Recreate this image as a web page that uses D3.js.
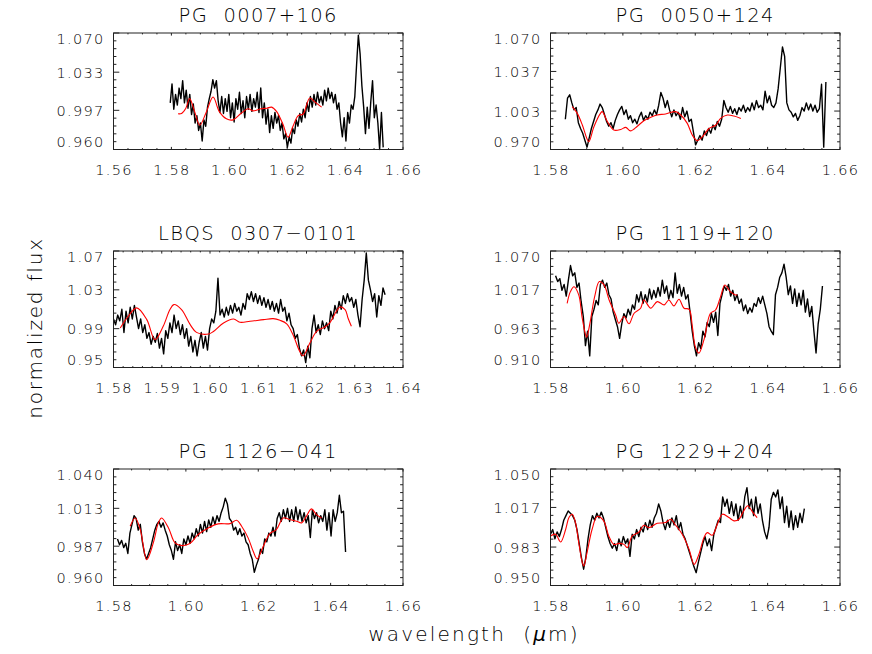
<!DOCTYPE html>
<html><head><meta charset="utf-8">
<script src="https://cdn.jsdelivr.net/npm/d3@7"></script>
<style>
body{margin:0;background:#fff}
text{font-family:"DejaVu Sans",sans-serif;font-weight:200;fill:#000}
</style>
</head><body><svg id="c" width="872" height="654"></svg>
<script>
// ---------- data ----------
const titles = ["PG  0007+106","PG  0050+124","LBQS  0307\u22120101","PG  1119+120","PG  1126\u2212041","PG  1229+204"];
const xTicks1 = ["1.56","1.58","1.60","1.62","1.64","1.66"];
const xTicks2 = ["1.58","1.60","1.62","1.64","1.66"];
const xTicks3 = ["1.58","1.59","1.60","1.61","1.62","1.63","1.64"];
const yTicks1 = ["0.960","0.997","1.033","1.070"];
const yTicks2 = ["0.970","1.003","1.037","1.070"];
const yTicks3 = ["0.95","0.99","1.03","1.07"];
const yTicks4 = ["0.910","0.963","1.017","1.070"];
const yTicks5 = ["0.960","0.987","1.013","1.040"];
const yTicks6 = ["0.950","0.983","1.017","1.050"];

// spectra: start wavelength, pixel step, normalized flux per pixel
const specStart = [1.5796, 1.5841, 1.5800, 1.5814, 1.5811, 1.5800];
const specStep  = [0.000613, 0.0006, 0.000433, 0.00059, 0.000573, 0.00061];

const flux1 = [1.004,1.022,0.998,1.012,1.002,1.018,1.008,1.025,1.004,1.016,0.999,1.012,0.993,1.003,0.985,0.992,0.978,0.985,0.968,0.988,
0.982,1.000,1.008,1.015,1.026,1.018,1.025,1.006,0.995,1.010,0.994,1.008,0.996,1.012,0.990,1.004,0.986,1.008,0.998,1.014,
0.994,1.006,0.990,1.010,0.998,1.012,0.996,1.008,1.000,1.014,0.995,1.018,0.990,1.004,0.984,0.998,0.976,0.992,0.980,0.995,
0.985,0.992,0.978,0.985,0.970,0.975,0.962,0.972,0.966,0.980,0.975,0.988,0.982,0.994,0.986,0.998,0.990,1.004,0.996,1.010,
1.000,1.012,1.002,1.014,1.004,1.010,1.002,1.016,1.006,1.018,1.008,1.014,1.004,1.012,0.998,1.004,0.985,0.972,0.990,0.968,
0.995,0.985,1.002,0.998,1.010,1.040,1.068,1.050,1.020,1.000,0.975,1.000,0.980,1.005,1.025,0.990,1.002,0.985,0.960,0.995,0.962];

const flux2 = [0.996,1.014,1.017,1.010,1.004,1.006,0.993,0.988,0.984,0.978,0.972,0.980,0.988,0.994,1.000,1.004,1.009,1.006,1.000,0.994,
0.990,0.993,0.988,0.995,1.000,1.004,1.007,1.000,1.004,0.996,0.999,0.993,0.996,0.992,0.998,1.002,0.995,0.999,0.996,1.002,
0.999,1.004,1.000,1.008,1.019,1.014,1.006,1.012,1.004,0.998,1.004,0.999,1.002,0.996,1.006,0.998,1.003,0.994,0.996,0.985,
0.974,0.978,0.982,0.978,0.986,0.982,0.988,0.984,0.991,0.987,0.994,0.990,0.996,1.012,1.006,1.002,1.007,1.001,1.005,1.000,
1.006,1.003,1.008,1.002,1.006,1.003,1.010,1.004,1.012,1.006,1.008,1.004,1.020,1.010,1.016,1.008,1.006,1.010,1.022,1.040,
1.058,1.050,1.010,1.004,1.002,0.998,1.001,0.995,0.999,1.006,1.003,1.010,1.004,1.009,1.003,1.008,1.002,1.005,1.026,0.972,1.028];

const flux3 = [1.000,0.994,1.004,0.998,1.010,0.986,1.008,0.996,1.012,1.000,1.014,1.002,0.990,1.000,0.986,0.994,0.980,0.986,0.974,0.982,
0.976,0.985,0.970,0.980,0.964,0.988,0.980,0.996,0.986,1.004,0.990,0.998,0.984,0.994,0.980,0.990,0.972,0.982,0.966,0.978,
0.962,0.976,0.986,0.970,0.982,0.968,0.990,1.000,0.996,1.008,1.042,1.004,1.010,1.002,1.012,1.004,1.014,1.006,1.016,1.008,
1.012,1.004,1.016,1.010,1.026,1.020,1.028,1.018,1.026,1.016,1.024,1.014,1.022,1.012,1.020,1.010,1.018,1.008,1.016,1.006,
1.020,1.008,1.012,0.998,1.006,0.994,0.990,0.980,0.984,0.970,0.962,0.968,0.955,0.972,0.960,0.990,1.004,0.986,0.994,0.984,
0.998,0.990,0.996,0.988,1.008,1.000,1.014,1.006,1.018,1.010,1.024,1.016,1.026,1.018,1.022,1.012,1.020,1.004,0.992,1.020,
1.040,1.068,1.040,1.030,1.018,1.026,1.002,1.024,1.014,1.032,1.025];

const flux4 = [1.036,1.028,1.032,1.016,1.024,1.008,1.030,1.050,1.036,1.040,1.020,1.026,1.000,0.980,0.940,0.960,0.926,0.980,0.990,1.002,
0.996,1.024,1.030,1.020,1.026,1.010,1.004,0.986,0.976,0.966,0.950,0.970,0.984,0.978,0.990,0.982,0.996,0.990,1.010,1.000,
1.014,0.998,1.010,1.000,1.018,1.004,1.016,1.006,1.020,1.008,1.030,1.012,1.022,1.004,1.016,1.006,1.040,1.012,1.024,1.008,
1.020,1.004,1.010,0.986,0.960,0.940,0.926,0.944,0.936,0.960,0.952,0.972,0.966,0.984,0.972,0.986,0.954,0.998,1.010,1.022,
1.016,1.024,1.008,1.016,1.002,1.010,0.998,1.004,0.988,0.996,0.984,0.992,0.986,0.998,0.994,1.006,0.998,1.008,0.996,0.984,
0.966,0.960,0.955,1.010,1.020,1.034,1.040,1.052,1.034,1.010,1.022,0.998,1.018,0.994,1.012,0.996,1.016,0.986,1.004,0.980,
0.994,0.960,0.930,0.970,0.990,1.022];

const flux5 = [0.992,0.988,0.991,0.986,0.989,0.982,0.996,1.002,1.008,1.006,0.998,1.002,0.990,0.982,0.978,0.982,0.986,0.992,0.998,1.002,
1.004,1.000,1.003,0.998,0.994,0.988,0.984,0.978,0.990,0.984,0.988,0.982,0.992,0.988,0.994,0.989,0.996,0.992,0.999,0.994,
1.002,0.996,1.004,0.997,1.005,1.000,1.007,1.002,1.008,1.004,1.010,1.014,1.020,1.016,1.006,1.004,0.998,1.000,0.995,0.999,
0.994,0.996,0.990,0.988,0.982,0.978,0.969,0.974,0.978,0.985,0.982,0.992,0.990,0.996,0.994,1.000,0.994,1.006,1.010,1.004,
1.012,1.006,1.013,1.004,1.012,1.004,1.014,1.005,1.012,1.004,1.010,1.003,1.008,0.993,1.012,1.006,1.010,1.003,1.008,1.004,
1.012,0.998,1.010,0.994,1.012,1.004,1.010,1.022,1.010,1.011,0.983];

const flux6 = [0.994,0.998,0.990,0.996,0.992,0.998,1.006,1.010,1.014,1.012,1.010,1.006,0.998,0.986,0.974,0.964,0.974,0.990,1.002,1.010,
1.006,1.012,1.008,1.013,1.008,1.000,0.992,0.986,0.982,0.986,0.980,0.990,0.984,0.992,0.986,0.990,0.975,0.994,0.990,0.998,
0.992,1.000,0.996,1.004,0.998,1.006,1.000,1.008,1.012,1.020,1.014,1.004,0.998,1.006,1.000,1.008,1.002,1.010,0.998,1.004,
0.994,0.990,0.984,0.978,0.972,0.966,0.961,0.970,0.978,0.986,0.992,0.984,0.990,0.980,0.994,1.000,1.006,1.004,1.026,1.018,
1.024,1.012,1.022,1.010,1.020,1.006,1.018,1.008,1.026,1.034,1.016,1.024,1.010,1.026,1.012,1.020,1.006,0.996,0.990,1.000,
1.024,1.030,1.026,1.032,1.016,1.026,1.004,1.018,1.000,1.014,0.998,1.010,1.000,1.012,1.004,1.016];

// model spectra (red): [wavelength, flux]
const model1 = [[1.5823,0.9937],[1.5835,0.9940],[1.5850,0.9990],[1.5863,1.0080],[1.5880,0.9960],[1.5898,0.9830],[1.5920,0.9950],
[1.5944,1.0096],[1.5965,0.9960],[1.5990,0.9890],[1.6013,0.9880],[1.6040,0.9940],[1.6065,0.9985],[1.6082,0.9965],[1.6110,0.9985],
[1.6130,0.9990],[1.6146,1.0000],[1.6163,0.9960],[1.6185,0.9840],[1.6203,0.9716],[1.6220,0.9820],[1.6238,0.9920],[1.6255,0.9935],
[1.6278,1.0086],[1.6295,1.0050],[1.6319,1.0000]];
const model2 = [[1.5860,1.0068],[1.5874,1.0010],[1.5888,0.9910],[1.5901,0.9790],[1.5906,0.9766],[1.5920,0.9895],[1.5938,1.0010],
[1.5943,1.0025],[1.5957,0.9940],[1.5975,0.9867],[1.5994,0.9872],[1.6008,0.9890],[1.6021,0.9860],[1.6040,0.9900],[1.6058,0.9947],
[1.6077,0.9976],[1.6095,0.9996],[1.6118,1.0005],[1.6146,1.0025],[1.6160,0.9996],[1.6178,0.9924],[1.6192,0.9823],[1.6206,0.9775],
[1.6220,0.9810],[1.6238,0.9880],[1.6257,0.9910],[1.6270,0.9967],[1.6289,0.9996],[1.6307,0.9987],[1.6326,0.9967]];
const model3 = [[1.5814,0.9907],[1.5828,1.0010],[1.5848,1.0114],[1.5869,0.9993],[1.5886,0.9786],[1.5903,0.9924],[1.5917,1.0097],
[1.5925,1.0148],[1.5941,1.0097],[1.5959,0.9941],[1.5972,0.9862],[1.5997,0.9845],[1.6007,0.9870],[1.6028,0.9959],[1.6049,1.0000],
[1.6062,0.9966],[1.6083,0.9976],[1.6111,0.9993],[1.6131,1.0003],[1.6145,0.9986],[1.6159,0.9950],[1.6172,0.9838],[1.6186,0.9666],
[1.6193,0.9621],[1.6207,0.9752],[1.6221,0.9872],[1.6238,0.9917],[1.6248,0.9959],[1.6262,1.0079],[1.6269,1.0124],[1.6280,1.0097],
[1.6286,1.0010],[1.6293,0.9924]];
const model4 = [[1.5846,0.9982],[1.5855,1.0142],[1.5865,1.0210],[1.5878,1.0097],[1.5887,0.9800],[1.5897,0.9548],[1.5900,0.9516],
[1.5909,0.9708],[1.5922,1.0074],[1.5935,1.0280],[1.5948,1.0234],[1.5962,1.0028],[1.5980,0.9822],[1.5989,0.9708],[1.6003,0.9800],
[1.6017,0.9700],[1.6031,0.9845],[1.6049,0.9914],[1.6058,1.0028],[1.6077,0.9914],[1.6095,1.0005],[1.6114,0.9960],[1.6127,1.0028],
[1.6141,0.9946],[1.6155,1.0037],[1.6169,0.9914],[1.6183,0.9900],[1.6192,0.9662],[1.6200,0.9388],[1.6210,0.9297],[1.6224,0.9480],
[1.6242,0.9845],[1.6256,0.9890],[1.6270,1.0074],[1.6282,1.0234],[1.6297,1.0142],[1.6311,1.0097],[1.6316,1.0097]];
const model5 = [[1.5846,1.0007],[1.5860,1.0064],[1.5874,0.9984],[1.5892,0.9778],[1.5910,0.9893],[1.5924,1.0030],[1.5933,1.0064],
[1.5952,0.9995],[1.5970,0.9893],[1.5989,0.9874],[1.6011,0.9888],[1.6034,0.9950],[1.6062,0.9995],[1.6089,1.0023],[1.6122,1.0025],
[1.6140,1.0048],[1.6154,1.0007],[1.6172,0.9927],[1.6186,0.9835],[1.6197,0.9783],[1.6214,0.9870],[1.6232,0.9957],[1.6250,0.9984],
[1.6269,1.0064],[1.6287,1.0053],[1.6306,1.0041],[1.6320,1.0030],[1.6333,1.0075],[1.6347,1.0126],[1.6361,1.0087],[1.6375,1.0064]];
const model6 = [[1.5800,0.9925],[1.5814,0.9940],[1.5828,0.9874],[1.5842,0.9983],[1.5851,1.0083],[1.5860,1.0112],[1.5869,1.0040],
[1.5878,0.9868],[1.5888,0.9695],[1.5892,0.9667],[1.5901,0.9782],[1.5915,0.9983],[1.5929,1.0092],[1.5947,1.0055],[1.5961,0.9925],
[1.5975,0.9853],[1.5989,0.9862],[1.6003,0.9853],[1.6012,0.9825],[1.6026,0.9925],[1.6045,0.9960],[1.6058,1.0017],[1.6072,0.9997],
[1.6095,1.0034],[1.6118,1.0040],[1.6132,1.0069],[1.6146,1.0017],[1.6164,0.9940],[1.6183,0.9810],[1.6197,0.9681],[1.6210,0.9767],
[1.6224,0.9911],[1.6233,0.9954],[1.6247,0.9931],[1.6261,1.0026],[1.6275,1.0112],[1.6293,1.0083],[1.6307,1.0055],[1.6321,1.0069],
[1.6334,1.0141],[1.6345,1.0184],[1.6358,1.0132],[1.6371,1.0083]];

const panels = [
  {title:titles[0], xt:xTicks1, yt:yTicks1, flux:flux1, model:model1, xMinor:4},
  {title:titles[1], xt:xTicks2, yt:yTicks2, flux:flux2, model:model2, xMinor:4},
  {title:titles[2], xt:xTicks3, yt:yTicks3, flux:flux3, model:model3, xMinor:5},
  {title:titles[3], xt:xTicks2, yt:yTicks4, flux:flux4, model:model4, xMinor:4},
  {title:titles[4], xt:xTicks2, yt:yTicks5, flux:flux5, model:model5, xMinor:4},
  {title:titles[5], xt:xTicks2, yt:yTicks6, flux:flux6, model:model6, xMinor:4}
];

// ---------- layout ----------
const svg = d3.select("#c");
const colX = [113.5, 550.5], rowY = [33, 251, 469];
const W = 289.5, H = 116.5;
const LS = "1.3px";

panels.forEach((p, k) => {
  const x0 = colX[k % 2], y0 = rowY[Math.floor(k / 2)];
  const xv = p.xt.map(Number), yv = p.yt.map(Number);
  const x = d3.scaleLinear().domain([xv[0], xv[xv.length-1]]).range([x0, x0 + W]);
  const y = d3.scaleLinear().domain([yv[0], yv[yv.length-1]]).range([y0 + H, y0]);
  const g = svg.append("g");
  const cid = "clip" + k;
  g.append("clipPath").attr("id", cid).append("rect")
    .attr("x", x0).attr("y", y0 - 1).attr("width", W).attr("height", H + 2);

  // spectrum
  const start = specStart[k], step = specStep[k];
  const line = d3.line().x((d, i) => x(start + i * step)).y(d => y(d));
  g.append("path").datum(p.flux).attr("d", line).attr("fill", "none")
    .attr("stroke", "#000").attr("stroke-width", 1.4).attr("stroke-linejoin", "round")
    .attr("clip-path", `url(#${cid})`);
  // model
  const mline = d3.line().x(d => x(d[0])).y(d => y(d[1])).curve(d3.curveCatmullRom.alpha(0.5));
  g.append("path").datum(p.model).attr("d", mline).attr("fill", "none")
    .attr("stroke", "#ff0000").attr("stroke-width", 1.1);

  // box
  g.append("rect").attr("x", x0).attr("y", y0).attr("width", W).attr("height", H)
    .attr("fill", "none").attr("stroke", "#222").attr("stroke-width", 1);

  // x ticks (bottom & top, inward)
  const xMaj = 2.6, xMin = 1.4;
  for (let i = 0; i < xv.length; i++) {
    const xx = x(xv[i]);
    g.append("line").attr("x1", xx).attr("x2", xx).attr("y1", y0 + H).attr("y2", y0 + H - xMaj).attr("stroke", "#222");
    g.append("line").attr("x1", xx).attr("x2", xx).attr("y1", y0).attr("y2", y0 + xMaj).attr("stroke", "#222");
    g.append("text").attr("x", xx + 0.5).attr("y", y0 + H + 21).attr("text-anchor", "middle")
      .attr("dominant-baseline", "middle").attr("font-size", "14.5px").style("letter-spacing", LS).text(p.xt[i]);
    if (i < xv.length - 1) {
      for (let m = 1; m < p.xMinor; m++) {
        const xm = x(xv[i] + (xv[i+1] - xv[i]) * m / p.xMinor);
        g.append("line").attr("x1", xm).attr("x2", xm).attr("y1", y0 + H).attr("y2", y0 + H - xMin).attr("stroke", "#222");
        g.append("line").attr("x1", xm).attr("x2", xm).attr("y1", y0).attr("y2", y0 + xMin).attr("stroke", "#222");
      }
    }
  }
  // y ticks (left & right, inward)
  const yMaj = 5.8, yMin = 2.9, yMinorN = 5;
  for (let i = 0; i < yv.length; i++) {
    const yy = y(yv[i]);
    g.append("line").attr("x1", x0).attr("x2", x0 + yMaj).attr("y1", yy).attr("y2", yy).attr("stroke", "#222");
    g.append("line").attr("x1", x0 + W).attr("x2", x0 + W - yMaj).attr("y1", yy).attr("y2", yy).attr("stroke", "#222");
    let off = 1.5;
    if (i === 0) off = -6.5;
    if (i === yv.length - 1) off = 7;
    g.append("text").attr("x", x0 - 9).attr("y", yy + off).attr("text-anchor", "end")
      .attr("dominant-baseline", "middle").attr("font-size", "14.5px").style("letter-spacing", LS).text(p.yt[i]);
    if (i < yv.length - 1) {
      for (let m = 1; m < yMinorN; m++) {
        const ym = y(yv[i] + (yv[i+1] - yv[i]) * m / yMinorN);
        g.append("line").attr("x1", x0).attr("x2", x0 + yMin).attr("y1", ym).attr("y2", ym).attr("stroke", "#222");
        g.append("line").attr("x1", x0 + W).attr("x2", x0 + W - yMin).attr("y1", ym).attr("y2", ym).attr("stroke", "#222");
      }
    }
  }
  // title
  g.append("text").attr("x", x0 + W / 2).attr("y", y0 - 17).attr("text-anchor", "middle")
    .attr("dominant-baseline", "middle").attr("font-size", "19.5px").style("letter-spacing", "1.4px")
    .style("white-space", "pre").text(p.title);
});

// axis titles
svg.append("text").attr("transform", "translate(36,328) rotate(-90)").attr("text-anchor", "middle")
  .attr("dominant-baseline", "middle").attr("font-size", "20px").style("letter-spacing", "1.8px")
  .text("normalized flux");
const xl = svg.append("text").attr("x", 474).attr("y", 635).attr("text-anchor", "middle")
  .attr("dominant-baseline", "middle").attr("font-size", "20px").style("letter-spacing", "2.2px")
  .style("white-space", "pre");
xl.append("tspan").text("wavelength  (");
xl.append("tspan").attr("font-style", "italic").text("\u03bc");
xl.append("tspan").text("m)");
</script>
</body></html>
